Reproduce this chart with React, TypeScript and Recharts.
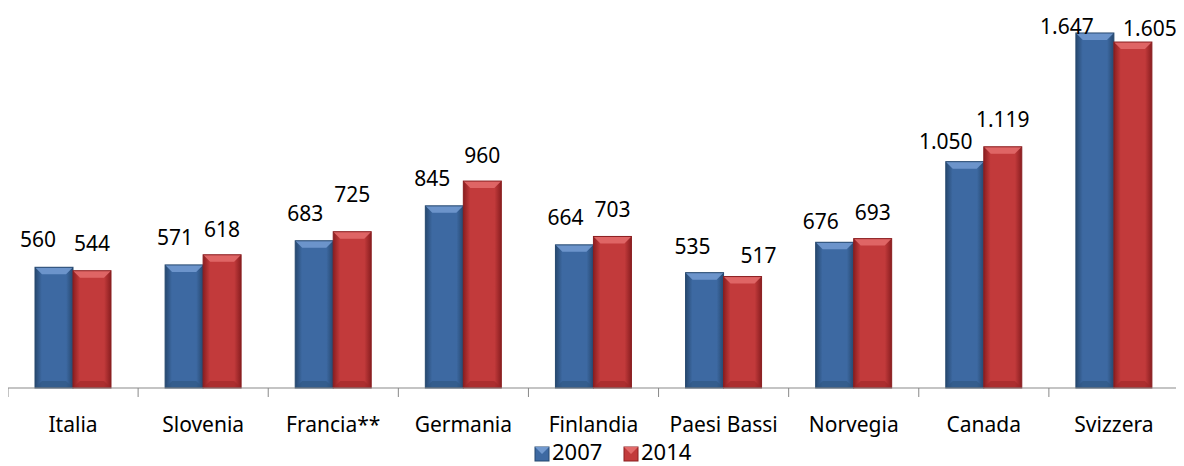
import { BarChart, Bar, XAxis, YAxis, LabelList } from "recharts";

const categories = [
  "Italia",
  "Slovenia",
  "Francia**",
  "Germania",
  "Finlandia",
  "Paesi Bassi",
  "Norvegia",
  "Canada",
  "Svizzera",
];
const values2007 = [560, 571, 683, 845, 664, 535, 676, 1050, 1647];
const values2014 = [544, 618, 725, 960, 703, 517, 693, 1119, 1605];
const seriesNames = ["2007", "2014"];

const data = categories.map((name, i) => ({
  name,
  y2007: values2007[i],
  y2014: values2014[i],
}));

const W = 1184;
const H = 466;
const M = { top: 0, right: 5, left: 8, bottom: 38 };
const BAND = (W - M.left - M.right) / categories.length;
const FONT = "'Noto Sans', sans-serif";

const palette = {
  blue: { mid: "#3d69a2", edge: "#26486f", top: "#7199cf", bottom: "#2f557f" },
  red: { mid: "#c23a3b", edge: "#8a1e20", top: "#e26a6a", bottom: "#9c2628" },
};

// data labels were hand-placed in the original; [dx, dy] from the default spot
const labelNudge: Record<string, [number, number][]> = {
  blue: [[-16, 0], [-9, 0], [-9, 0], [-12, 0], [-9, 0], [-12, 1], [-14, 7], [-19, 7], [-28, 21]],
  red: [[0, 0], [0, 2], [0, -10], [0, 2], [0, 1], [16, 6], [0, 1], [0, 0], [17, 14]],
};

const fmt = (v: number) => String(v).replace(/\B(?=(\d{3})+(?!\d))/g, ".");

function Gradients() {
  return (
    <defs>
      {Object.entries(palette).map(([k, c]) => (
        <linearGradient key={k} id={`g-${k}`} x1="0" y1="0" x2="1" y2="0">
          <stop offset="0" stopColor={c.edge} />
          <stop offset="0.18" stopColor={c.mid} />
          <stop offset="0.82" stopColor={c.mid} />
          <stop offset="1" stopColor={c.edge} />
        </linearGradient>
      ))}
    </defs>
  );
}

function makeShape(kind: "blue" | "red") {
  return (props: any) => {
    const { x, y, width: w, height: h } = props;
    if (!h || h <= 0) return null;
    const c = palette[kind];
    const b = Math.min(7, h / 2);
    return (
      <g>
        <rect x={x} y={y} width={w} height={h} fill={`url(#g-${kind})`} />
        <polygon
          points={`${x},${y} ${x + w},${y} ${x + w - b},${y + b} ${x + b},${y + b}`}
          fill={c.top}
          opacity={0.9}
        />
        <polygon
          points={`${x},${y + h} ${x + w},${y + h} ${x + w - b},${y + h - b} ${x + b},${y + h - b}`}
          fill={c.bottom}
          opacity={0.6}
        />
        <rect x={x} y={y} width={w} height={h} fill="none" stroke={c.edge} strokeWidth={1} />
      </g>
    );
  };
}

function makeLabel(kind: "blue" | "red") {
  return (props: any) => {
    const { x, y, width, value, index } = props;
    const [dx, dy] = labelNudge[kind][index] || [0, 0];
    return (
      <text
        x={x + width / 2 + dx}
        y={y - 20 + dy}
        textAnchor="middle"
        fontFamily={FONT}
        fontSize={21}
        fill="#000"
      >
        {fmt(value)}
      </text>
    );
  };
}

function CategoryTick(props: any) {
  const { x, y, payload, index } = props;
  const left = x - BAND / 2;
  return (
    <g>
      <line x1={left} y1={y} x2={left} y2={y + 9} stroke="#898989" />
      {index === categories.length - 1 && (
        <line x1={x + BAND / 2} y1={y} x2={x + BAND / 2} y2={y + 9} stroke="#898989" />
      )}
      <text x={x} y={y + 44} textAnchor="middle" fontFamily={FONT} fontSize={21} fill="#000">
        {payload.value}
      </text>
    </g>
  );
}

function LegendSwatch({ kind, x }: { kind: "blue" | "red"; x: number }) {
  const c = palette[kind];
  return (
    <g>
      <rect x={x} y={447} width={14} height={14} fill={c.mid} stroke={c.edge} />
      <polygon points={`${x},447 ${x + 14},447 ${x + 7},454`} fill={c.top} />
    </g>
  );
}

export default function App() {
  return (
    <div style={{ position: "relative", left: -8, top: -8, width: W, height: H, background: "#fff" }}>
      <BarChart width={W} height={H} data={data} margin={M} barSize={38} barGap={0}>
        <Gradients />
        <XAxis
          dataKey="name"
          height={40}
          tickSize={0}
          tickMargin={0}
          axisLine={{ stroke: "#898989" }}
          tickLine={false}
          tick={<CategoryTick />}
          interval={0}
        />
        <YAxis hide domain={[0, 1800]} />
        <Bar dataKey="y2007" name={seriesNames[0]} shape={makeShape("blue")} isAnimationActive={false}>
          <LabelList dataKey="y2007" content={makeLabel("blue")} />
        </Bar>
        <Bar dataKey="y2014" name={seriesNames[1]} shape={makeShape("red")} isAnimationActive={false}>
          <LabelList dataKey="y2014" content={makeLabel("red")} />
        </Bar>
      </BarChart>
      <svg
        width={W}
        height={H}
        style={{ position: "absolute", left: 0, top: 0, pointerEvents: "none" }}
      >
        <LegendSwatch kind="blue" x={535} />
        <text x={552} y={460} fontFamily={FONT} fontSize={22} fill="#000">
          {seriesNames[0]}
        </text>
        <LegendSwatch kind="red" x={624} />
        <text x={641} y={460} fontFamily={FONT} fontSize={22} fill="#000">
          {seriesNames[1]}
        </text>
      </svg>
    </div>
  );
}
